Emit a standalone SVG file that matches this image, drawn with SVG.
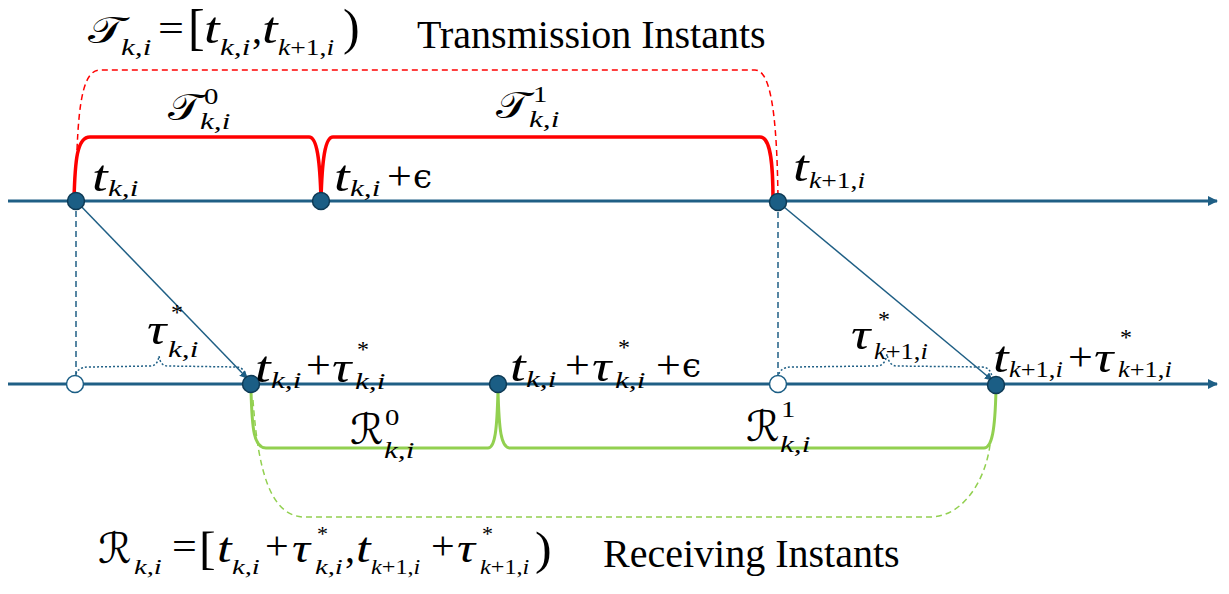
<svg xmlns="http://www.w3.org/2000/svg" width="1229" height="594" viewBox="0 0 1229 594">
<style>
text{font-family:"Liberation Serif","Times New Roman","DejaVu Serif",serif;fill:#000}
.m{font-style:italic;font-size:45px}
.mb{font-style:italic;font-size:42px}
.r{font-size:40px}
.br{font-size:50px}
.s{font-size:24px}
.sb{font-size:22px}
.i{font-style:italic}
.eps{font-family:"DejaVu Serif",serif;font-size:34px}
.cal{font-family:"DejaVu Serif","DejaVu Sans",serif;font-size:38px}
.calR{font-family:"DejaVu Serif","DejaVu Sans",serif;font-size:42px}
.lbl{font-size:40px}
.axis{stroke:#1f5f85;stroke-width:3;fill:none}
.vd{stroke:#1f5f85;stroke-width:1.5;stroke-dasharray:6 4;fill:none}
.diag{stroke:#1f5f85;stroke-width:1.5;fill:none}
.dot{stroke:#1f5f85;stroke-width:1.5;stroke-dasharray:2 2;fill:none}
.rs{stroke:#ff0000;stroke-width:3.5;fill:none}
.rd{stroke:#ff0000;stroke-width:1.5;stroke-dasharray:6 4;fill:none}
.gs{stroke:#92d050;stroke-width:3;fill:none}
.gd{stroke:#92d050;stroke-width:1.5;stroke-dasharray:6 4;fill:none}
.nf{fill:#1b5e85;stroke:#0e3a55;stroke-width:1.5}
.no{fill:#ffffff;stroke:#1b5e85;stroke-width:1.5}
</style>
<defs>
<marker id="ah" markerWidth="10" markerHeight="10" refX="9" refY="5" orient="auto" markerUnits="userSpaceOnUse"><path d="M0,0 L10,5 L0,10 z" fill="#1f5f85"/></marker>
<marker id="sh" markerWidth="8" markerHeight="8" refX="7" refY="4" orient="auto" markerUnits="userSpaceOnUse"><path d="M0,0 L8,4 L0,8 z" fill="#1f5f85"/></marker>
</defs>

<g id="connectors">
<line class="axis" x1="8" y1="201" x2="1217" y2="201" marker-end="url(#ah)"/>
<line class="axis" x1="8" y1="384" x2="1217" y2="384" marker-end="url(#ah)"/>
<line class="vd" x1="76" y1="201" x2="76" y2="384"/>
<line class="vd" x1="778" y1="202" x2="778" y2="384"/>
<line class="diag" x1="76" y1="201" x2="247" y2="378" marker-end="url(#sh)"/>
<line class="diag" x1="778" y1="202" x2="992" y2="380" marker-end="url(#sh)"/>
<path class="dot" d="M75,378 C76,370 80,367 90,367 L150,366 C156,366 158,362 159,356 C160,362 162,366 168,366 L236,367 C242,367 245,371 246,377"/>
<path class="dot" d="M778,378 C779,370 783,367 793,367 L877,366 C883,366 886,361 887,354 C888,361 891,366 897,366 L982,367 C988,367 991,371 992,377"/>
<path class="rd" d="M77,150 C79,100 84,70 100,70 L755,70 C770,70 777,110 778,200"/>
<path class="rs" d="M74,200 C75,160 77,137 90,137 L309,137 C317,137 320,160 321,200 C322,160 325,137 333,137 L760,137 C770,137 773,160 773,200"/>
<path class="gd" d="M253,400 C258,470 270,517 305,517 L930,517 C962,517 985,482 990,445"/>
<path class="gs" d="M251,390 C252,430 254,448 266,448 L488,448 C495,448 497,430 498,390 C499,430 501,448 510,448 L984,448 C992,448 995,430 996,390"/>
</g>

<g id="node-t1"><circle class="nf" cx="76" cy="201" r="8.5"/></g>
<g id="node-t2"><circle class="nf" cx="321" cy="201" r="8.5"/></g>
<g id="node-t3"><circle class="nf" cx="778" cy="202" r="8.5"/></g>
<g id="node-r0"><circle class="no" cx="75" cy="384" r="8.5"/></g>
<g id="node-r1"><circle class="nf" cx="251" cy="384" r="8.5"/></g>
<g id="node-r2"><circle class="nf" cx="498" cy="384" r="8.5"/></g>
<g id="node-r3"><circle class="no" cx="778" cy="384" r="8.5"/></g>
<g id="node-r4"><circle class="nf" cx="996" cy="385" r="8.5"/></g>

<g id="top-formula">
<text class="cal" transform="translate(88,43) scale(1.25,1)">𝒯</text>
<text class="s i" transform="translate(121,55) scale(1.3,1)">k,i</text>
<text class="r" transform="translate(158,42) scale(1.15,1)">=</text>
<text class="br" transform="translate(188,44)">[</text>
<text class="m" transform="translate(204,43) scale(1.25,1)">t</text>
<text class="s i" transform="translate(220,55) scale(1.3,1)">k,i</text>
<text class="r" transform="translate(252,43)">,</text>
<text class="m" transform="translate(262,43) scale(1.25,1)">t</text>
<text class="s" transform="translate(278,55) scale(1.15,1)"><tspan class="i">k</tspan>+1,<tspan class="i">i</tspan></text>
<text class="br" transform="translate(343,44)">)</text>
<text class="lbl" x="417" y="48">Transmission Instants</text>
</g>

<g id="label-T0">
<text class="cal" transform="translate(168,120) scale(1.15,1)">𝒯</text>
<text class="s" transform="translate(204,104) scale(1.2,1)">0</text>
<text class="s i" transform="translate(200,129) scale(1.3,1)">k,i</text>
</g>
<g id="label-T1">
<text class="cal" transform="translate(496,118) scale(1.15,1)">𝒯</text>
<text class="s" transform="translate(533,102) scale(1.2,1)">1</text>
<text class="s i" transform="translate(529,127) scale(1.3,1)">k,i</text>
</g>

<g id="label-t1">
<text class="m" transform="translate(92,191) scale(1.25,1)">t</text>
<text class="s i" transform="translate(108,196) scale(1.3,1)">k,i</text>
</g>
<g id="label-t2">
<text class="m" transform="translate(334,191) scale(1.25,1)">t</text>
<text class="s i" transform="translate(350,196) scale(1.3,1)">k,i</text>
<text class="r" transform="translate(387,189) scale(1.1,1)">+</text>
<text class="eps" x="413" y="188">ϵ</text>
</g>
<g id="label-t3">
<text class="m" transform="translate(793,181) scale(1.25,1)">t</text>
<text class="s" transform="translate(809,188) scale(1.15,1)"><tspan class="i">k</tspan>+1,<tspan class="i">i</tspan></text>
</g>

<g id="label-tau1">
<text class="m" transform="translate(147,344) scale(1.2,1)">τ</text>
<text class="s" transform="translate(171,320)">*</text>
<text class="s i" transform="translate(168,357) scale(1.3,1)">k,i</text>
</g>
<g id="label-r1">
<text class="m" transform="translate(255,382) scale(1.25,1)">t</text>
<text class="s i" transform="translate(271,388) scale(1.3,1)">k,i</text>
<text class="r" transform="translate(306,378) scale(1.1,1)">+</text>
<text class="m" transform="translate(332,382) scale(1.2,1)">τ</text>
<text class="s" transform="translate(357,357)">*</text>
<text class="s i" transform="translate(355,389) scale(1.3,1)">k,i</text>
</g>
<g id="label-r2">
<text class="m" transform="translate(510,381) scale(1.25,1)">t</text>
<text class="s i" transform="translate(526,387) scale(1.3,1)">k,i</text>
<text class="r" transform="translate(565,378) scale(1.1,1)">+</text>
<text class="m" transform="translate(592,381) scale(1.2,1)">τ</text>
<text class="s" transform="translate(618,355)">*</text>
<text class="s i" transform="translate(615,388) scale(1.3,1)">k,i</text>
<text class="r" transform="translate(656,378) scale(1.1,1)">+</text>
<text class="eps" x="682" y="377">ϵ</text>
</g>
<g id="label-tau2">
<text class="m" transform="translate(851,349) scale(1.2,1)">τ</text>
<text class="s" transform="translate(878,327)">*</text>
<text class="s" transform="translate(874,359) scale(1.1,1)"><tspan class="i">k</tspan>+1,<tspan class="i">i</tspan></text>
</g>
<g id="label-r4">
<text class="m" transform="translate(993,372) scale(1.25,1)">t</text>
<text class="s" transform="translate(1009,377) scale(1.1,1)"><tspan class="i">k</tspan>+1,<tspan class="i">i</tspan></text>
<text class="r" transform="translate(1068,370) scale(1.1,1)">+</text>
<text class="m" transform="translate(1094,372) scale(1.2,1)">τ</text>
<text class="s" transform="translate(1120,345)">*</text>
<text class="s" transform="translate(1118,377) scale(1.1,1)"><tspan class="i">k</tspan>+1,<tspan class="i">i</tspan></text>
</g>

<g id="label-R0">
<text class="calR" x="350" y="444">ℛ</text>
<text class="s" transform="translate(385,425) scale(1.2,1)">0</text>
<text class="s i" transform="translate(384,458) scale(1.3,1)">k,i</text>
</g>
<g id="label-R1">
<text class="calR" x="746" y="441">ℛ</text>
<text class="s" transform="translate(781,417) scale(1.2,1)">1</text>
<text class="s i" transform="translate(780,452) scale(1.3,1)">k,i</text>
</g>

<g id="bottom-formula">
<text class="calR" x="98" y="563">ℛ</text>
<text class="sb i" transform="translate(134,574) scale(1.3,1)">k,i</text>
<text class="r" transform="translate(172,560) scale(1.1,1)">=</text>
<text class="br" transform="translate(199,564) scale(1,0.95)">[</text>
<text class="mb" transform="translate(217,562) scale(1.25,1)">t</text>
<text class="sb i" transform="translate(232,574) scale(1.3,1)">k,i</text>
<text class="r" transform="translate(265,559) scale(1.05,1)">+</text>
<text class="mb" transform="translate(292,562) scale(1.2,1)">τ</text>
<text class="sb" transform="translate(317,541)">*</text>
<text class="sb i" transform="translate(315,574) scale(1.3,1)">k,i</text>
<text class="r" transform="translate(345,562)">,</text>
<text class="mb" transform="translate(356,562) scale(1.25,1)">t</text>
<text class="sb" transform="translate(371,574) scale(1.1,1)"><tspan class="i">k</tspan>+1,<tspan class="i">i</tspan></text>
<text class="r" transform="translate(431,559) scale(1.05,1)">+</text>
<text class="mb" transform="translate(457,562) scale(1.2,1)">τ</text>
<text class="sb" transform="translate(482,541)">*</text>
<text class="sb" transform="translate(480,574) scale(1.1,1)"><tspan class="i">k</tspan>+1,<tspan class="i">i</tspan></text>
<text class="br" transform="translate(535,564) scale(1,0.95)">)</text>
<text class="lbl" x="603" y="567">Receiving Instants</text>
</g>
</svg>
